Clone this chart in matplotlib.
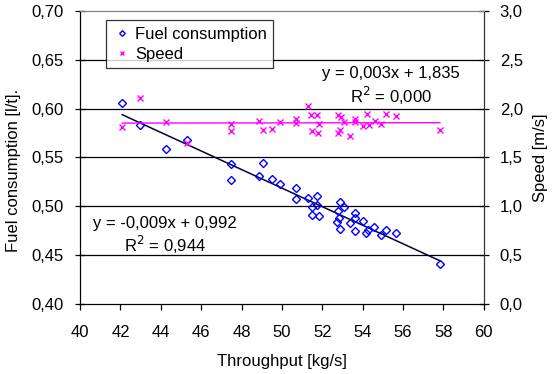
import matplotlib.pyplot as plt
import matplotlib.ticker as mticker
import numpy as np

plt.rcParams['font.family'] = ['Liberation Sans', 'DejaVu Sans']

# fuel consumption [l/t] vs throughput [kg/s]
fuel_x = [42.09, 42.97, 44.27, 45.28, 47.49, 47.49, 48.88, 49.08, 49.52, 49.92,
          50.71, 50.71, 51.30, 51.75, 51.75, 51.47, 51.49, 51.85, 52.87, 53.05,
          52.76, 52.82, 52.74, 52.89, 53.35, 53.60, 53.63, 53.60, 54.01, 54.17,
          54.27, 54.57, 54.92, 55.13, 55.64, 57.81]
fuel_y = [0.606, 0.583, 0.559, 0.568, 0.543, 0.527, 0.531, 0.544, 0.528, 0.523,
          0.5185, 0.5075, 0.509, 0.511, 0.501, 0.499, 0.491, 0.490, 0.504, 0.499,
          0.4955, 0.488, 0.4836, 0.4765, 0.4826, 0.493, 0.488, 0.4747, 0.485, 0.4727,
          0.4758, 0.4785, 0.471, 0.4758, 0.4727, 0.4413]

# speed [m/s] vs throughput [kg/s]
speed_x = [42.09, 42.97, 44.27, 45.28, 47.49, 47.49, 48.88, 49.08, 49.52, 49.92,
           50.71, 50.71, 51.30, 51.45, 51.75, 51.85, 51.49, 51.77, 52.77, 52.90,
           53.07, 52.77, 52.87, 53.35, 53.63, 53.61, 54.03, 54.19, 54.31, 54.59,
           54.93, 55.15, 55.63, 57.82]
speed_y = [1.812, 2.106, 1.867, 1.652, 1.84, 1.771, 1.87, 1.778, 1.79, 1.86,
           1.89, 1.85, 2.027, 1.93, 1.93, 1.843, 1.768, 1.754, 1.935, 1.915,
           1.867, 1.754, 1.778, 1.723, 1.897, 1.86, 1.825, 1.949, 1.83, 1.877,
           1.84, 1.949, 1.925, 1.778]

FS = 12

fig = plt.figure(figsize=(5.6, 3.74), dpi=100)
ax = fig.add_axes([0.143, 0.187, 0.721, 0.784])
ax2 = ax.twinx()

# trend lines
pf = np.polyfit(fuel_x, fuel_y, 1)
ps = np.polyfit(speed_x, speed_y, 1)
xf = np.array([min(fuel_x), max(fuel_x)])
xs = np.array([min(speed_x), max(speed_x)])

for v in [0.45, 0.50, 0.55, 0.60, 0.65]:
    ax.axhline(v, color='black', lw=0.9, zorder=0)

ax.plot(xf, np.polyval(pf, xf), color='#000040', lw=1.1, zorder=2)
ax2.plot(xs, np.polyval(ps, xs), color='#ff00ff', lw=1.0, zorder=2)

ax.plot(fuel_x, fuel_y, 'D', ms=3.8, mfc='none', mec='#0000ff', mew=1.0,
        ls='none', zorder=3, label='Fuel consumption')
ax2.plot(speed_x, speed_y, 'x', ms=4.5, color='#ff00ff', mew=1.0, ls='none',
         zorder=3, label='Speed')

ax.set_xlim(40, 60)
ax.set_ylim(0.40, 0.70)
ax2.set_ylim(0, 3.0)
ax.set_xticks(np.arange(40, 61, 2))
ax.set_yticks(np.arange(0.40, 0.701, 0.05))
ax2.set_yticks(np.arange(0, 3.01, 0.5))

comma = lambda fmt: mticker.FuncFormatter(lambda v, p: (fmt % v).replace('.', ','))
ax.yaxis.set_major_formatter(comma('%.2f'))
ax2.yaxis.set_major_formatter(comma('%.1f'))

for a in (ax, ax2):
    a.tick_params(axis='y', direction='inout', length=7, width=0.9,
                  labelsize=FS, pad=8.5)
    a.spines['top'].set_color('#808080')
    a.spines['left'].set_color('black')
    a.spines['bottom'].set_color('black')
    a.spines['right'].set_color('#333333')
ax2.tick_params(axis='y', pad=8)
ax.tick_params(axis='x', direction='out', length=4, width=0.9,
               labelsize=FS, pad=11)

ax.set_xlabel('Throughput [kg/s]', fontsize=FS, labelpad=10)
ax.set_ylabel('Fuel consumption [l/t].', fontsize=FS, labelpad=7)
ax.yaxis.label.set_y(0.457)
ax2.set_ylabel('Speed [m/s]', fontsize=FS, labelpad=7)

ax2.text(0.770, 0.785, 'y = 0,003x + 1,835', transform=ax.transAxes,
         ha='center', va='center', fontsize=FS)
ax2.text(0.770, 0.710, 'R$^2$ = 0,000', transform=ax.transAxes,
         ha='center', va='center', fontsize=FS)
ax2.text(0.210, 0.276, 'y = -0,009x + 0,992', transform=ax.transAxes,
         ha='center', va='center', fontsize=FS)
ax2.text(0.210, 0.201, 'R$^2$ = 0,944', transform=ax.transAxes,
         ha='center', va='center', fontsize=FS)

h1, l1 = ax.get_legend_handles_labels()
h2, l2 = ax2.get_legend_handles_labels()
leg = ax2.legend(h1 + h2, l1 + l2, loc='upper left', bbox_to_anchor=(0.0636, 0.969),
                 fontsize=FS, frameon=True, fancybox=False, edgecolor='black',
                 handlelength=1.2, handletextpad=0.15, borderpad=0.4,
                 labelspacing=0.3, markerscale=0.75, borderaxespad=0)
leg.get_frame().set_linewidth(0.9)
leg.set_zorder(5)

fig.savefig('out.png', dpi=100)
